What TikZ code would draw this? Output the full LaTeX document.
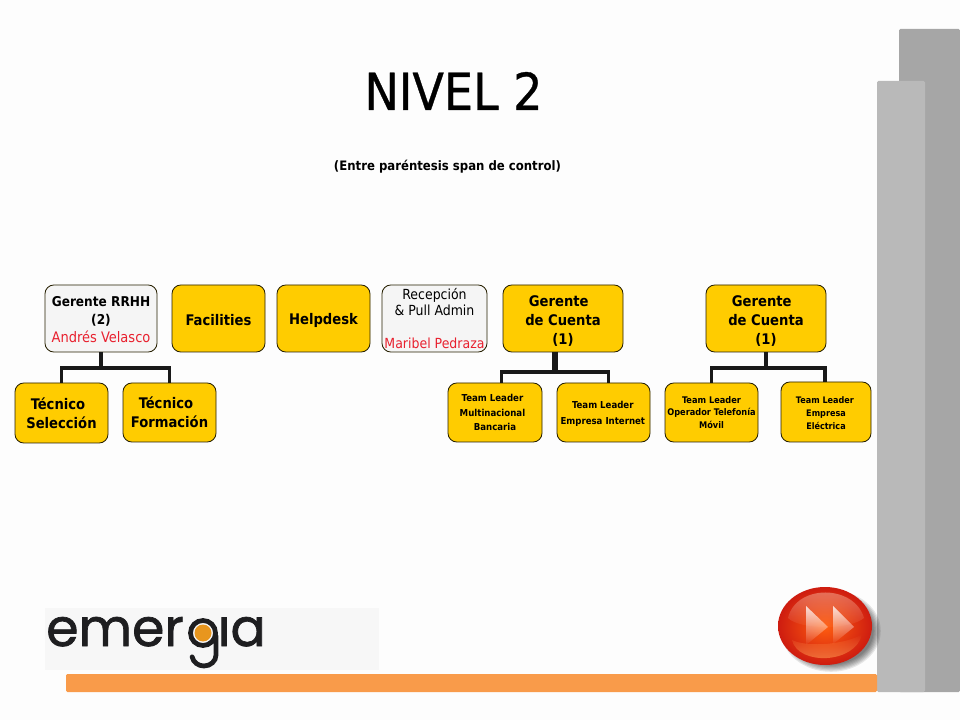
\documentclass[tikz,border=0pt]{standalone}
\usepackage{fontspec}
\setmainfont{DejaVu Sans Condensed}
\newfontfamily\titlefont[FakeBold=0.7]{DejaVu Sans Condensed}
\newfontfamily\logofont[FakeBold=1.4]{Poppins}
\usetikzlibrary{shapes.geometric,fadings}
\definecolor{boxyellow}{HTML}{FFCC00}
\definecolor{boxgrey}{HTML}{F5F5F5}
\definecolor{namered}{HTML}{E8202E}
\definecolor{pagewhite}{HTML}{FDFDFD}
\definecolor{sideback}{HTML}{A6A6A6}
\definecolor{sidefront}{HTML}{B9B9B9}
\definecolor{barorange}{HTML}{F99B4A}
\definecolor{logodark}{HTML}{1E1E20}
\definecolor{logodot}{HTML}{E8961E}
\definecolor{ballred}{HTML}{CE1C10}
\definecolor{ballorange}{HTML}{FF5E10}
\definecolor{ballglow}{HTML}{FF9A50}
\definecolor{ballgloss}{HTML}{FFD8C0}
\newcommand{\lowerby}[1]{\rule{0pt}{#1}}
\tikzset{
orgbox/.style 2 args={draw=black!85!boxyellow, line width=0.6pt, rounded corners=0.22cm, inner sep=0pt, align=center, minimum width=#1*0.025cm, minimum height=#2*0.025cm},
yellowbox/.style 2 args={orgbox={#1}{#2}, fill=boxyellow, font=\bfseries},
greybox/.style 2 args={orgbox={#1}{#2}, fill=boxgrey},
orgline/.style={draw=black!90, line width=2.5pt, line cap=butt},
}
\begin{document}
\begin{tikzpicture}[x=0.025cm,y=-0.025cm]
\useasboundingbox[fill=pagewhite] (0,0) rectangle (960,720);
% Side bars
\fill[sideback, rounded corners=1pt] (899,29) rectangle (960,692);
\fill[sidefront, rounded corners=1pt] (877,81) rectangle (925,692);
\fill[barorange, rounded corners=1pt] (66,674) rectangle (877,692);
% Title
\node (title) at (453.5,91) {\titlefont\fontsize{36.4}{44}\selectfont NIVEL 2};
\node (subtitle) at (447.5,167) {\fontsize{9.25}{12}\selectfont\bfseries (Entre paréntesis span de control)};
% Top row
\node[greybox={112}{67}, font=\fontsize{9.6}{13.2}\selectfont] (rrhh) at (101,318.5) {\lowerby{8.5pt}\textbf{Gerente RRHH}\\\textbf{(2)}\\[-0.8pt]\textcolor{namered}{\fontsize{10.3}{13.2}\selectfont Andrés Velasco}};
\node[yellowbox={93}{67}, font=\fontsize{10.4}{13}\selectfont\bfseries] (facilities) at (218.5,318.5) {\lowerby{10.5pt}Facilities};
\node[yellowbox={93}{67}, font=\fontsize{10.4}{13}\selectfont\bfseries] (helpdesk) at (323.5,318.5) {\lowerby{10.5pt}Helpdesk};
\node[greybox={105}{67}, font=\fontsize{9.9}{11.5}\selectfont] (recepcion) at (434.5,318.5) {Recepción\\\& Pull Admin\\[11.5pt]\textcolor{namered}{Maribel Pedraza}};
\node[yellowbox={120}{67}, font=\fontsize{10.4}{13.5}\selectfont\bfseries] (cuentaa) at (563,318.5) {\lowerby{12pt}\hspace*{-6pt}Gerente\\de Cuenta\\(1)};
\node[yellowbox={120}{67}, font=\fontsize{10.4}{13.5}\selectfont\bfseries] (cuentab) at (766,318.5) {\lowerby{12pt}\hspace*{-6pt}Gerente\\de Cuenta\\(1)};
% Bottom row
\node[yellowbox={93}{60}, font=\fontsize{10.4}{13.5}\selectfont\bfseries] (seleccion) at (61.5,413) {\hspace*{-5pt}Técnico\\Selección};
\node[yellowbox={93}{59}, font=\fontsize{10.4}{13.5}\selectfont\bfseries] (formacion) at (169.5,412.5) {\hspace*{-5pt}Técnico\\Formación};
\node[yellowbox={94}{59}, font=\fontsize{6.8}{10.6}\selectfont\bfseries] (bancaria) at (495,412.5) {\hspace*{-3.6pt}Team Leader\\\hspace*{-3.6pt}Multinacional\\Bancaria};
\node[yellowbox={93}{59}, font=\fontsize{6.8}{11.2}\selectfont\bfseries] (internet) at (603.5,412.5) {\lowerby{7.5pt}\hspace*{-1pt}Team Leader\\\hspace*{-1pt}Empresa Internet};
\node[yellowbox={93}{59}, font=\fontsize{6.5}{9.1}\selectfont\bfseries] (movil) at (711.5,412.5) {Team Leader\\Operador Telefonía\\Móvil};
\node[yellowbox={90}{60}, font=\fontsize{6.4}{9.1}\selectfont\bfseries] (electrica) at (826,412) {\lowerby{6.5pt}\hspace*{-1.5pt}Team Leader\\Empresa\\Eléctrica};
% Lines
\coordinate (rrhhbus) at (101,368);
\coordinate (cuentaatop) at (555,352);
\coordinate (cuentaabus) at (555,372);
\coordinate (cuentabbus) at (766,368);
\draw[orgline] (rrhh.south) -- (rrhhbus);
\draw[orgline] (seleccion.north) |- (rrhhbus) -| (formacion.north);
\draw[orgline, line width=3.6pt] (cuentaatop) -- (cuentaabus);
\draw[orgline] ([xshift=0.16cm]bancaria.north) |- (cuentaabus) -| ([xshift=0.12cm]internet.north);
\draw[orgline] (cuentab.south) -- (cuentabbus);
\draw[orgline] (movil.north) |- (cuentabbus) -| ([xshift=-0.03cm]electrica.north);
% Logo
\fill[black!3] (45,608) rectangle (379,670);
\node[anchor=base west, inner sep=0pt, text=logodark] (logoleft) at (46,646) {\logofont\fontsize{37}{40}\selectfont emer};
\node[anchor=base east, inner sep=0pt, text=logodark] (logoright) at (266,646) {\logofont\fontsize{37}{40}\selectfont ıa};
\fill[logodot] (203,633) circle (8.5);
\draw[logodark, line width=3.4pt] (203,633) circle (12.5);
\draw[logodark, line width=3.4pt, line cap=round] (216,636) -- (216,655) arc (0:170:12 and 11);
% Button
\foreach \s in {1,...,7}
  \fill[black, opacity=0.09] (831,631) ellipse ({51-1.2*\s} and {42-1.2*\s});
\shade[inner color=ballorange, outer color=ballred] (825,626) ellipse (47 and 39);
\fill[ballgloss, opacity=0.5, path fading=south] (788,618) .. controls (796,584) and (854,584) .. (864,618) .. controls (850,630) and (800,630) .. cycle;
\fill[ballglow, opacity=0.8, path fading=north] (792,640) .. controls (808,648) and (848,644) .. (862,634) .. controls (856,664) and (798,666) .. cycle;
\fill[white, opacity=0.8, path fading=south] (806,606) -- (828,627) -- (806,645) -- cycle;
\fill[white, opacity=0.8, path fading=south] (833,606) -- (854,627) -- (833,644) -- cycle;
\end{tikzpicture}
\end{document}
